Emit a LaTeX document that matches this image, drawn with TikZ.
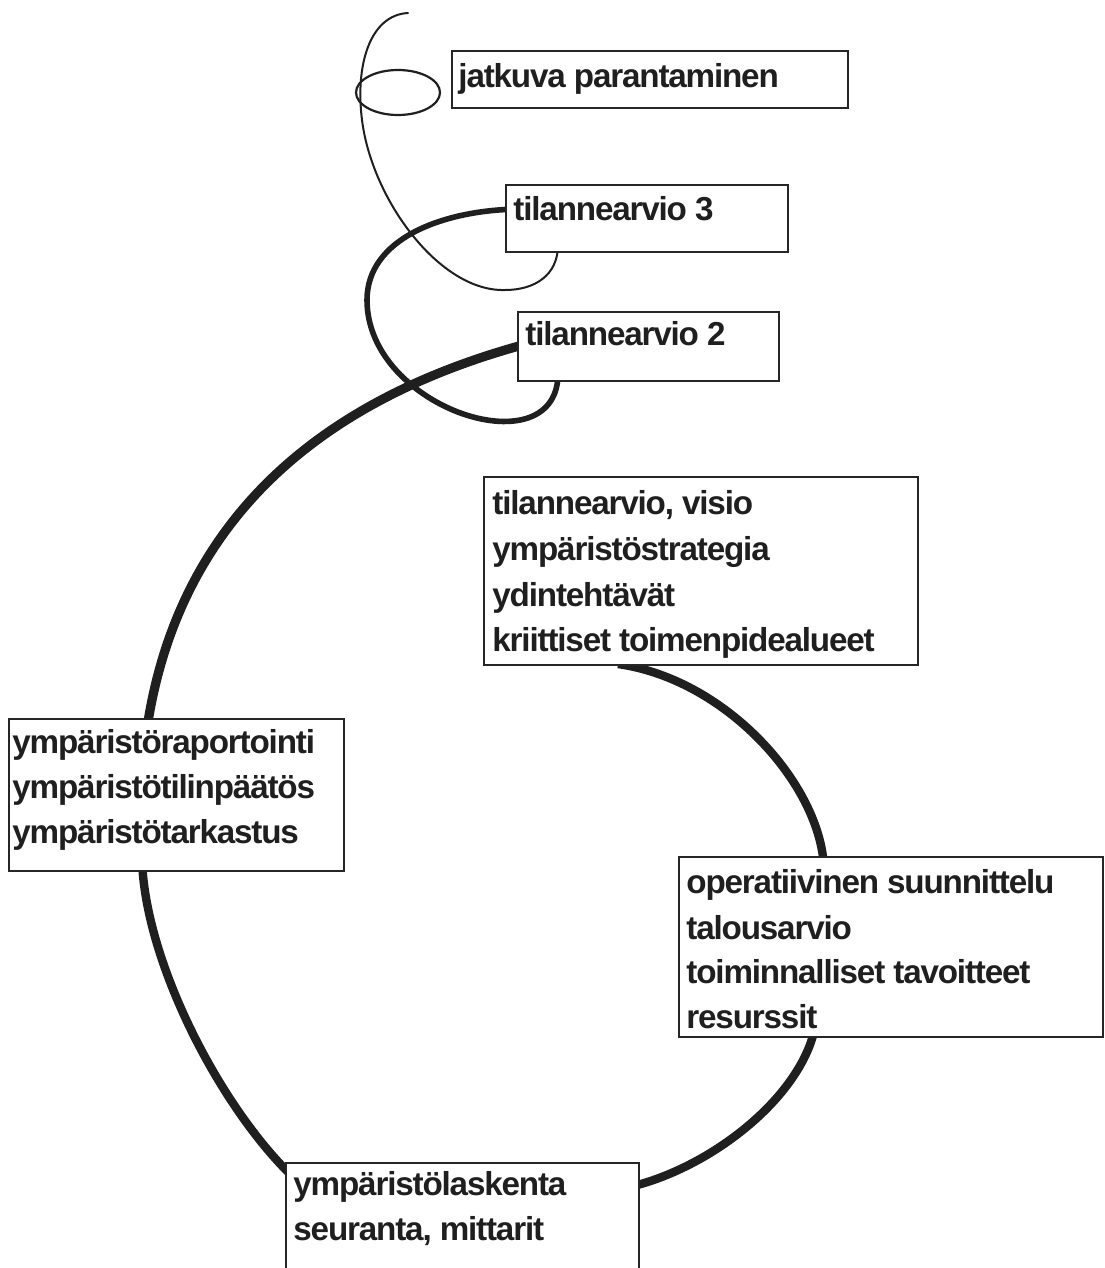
\documentclass[tikz,border=0pt]{standalone}
\usepackage{fontspec}
\setmainfont{Liberation Sans}[LetterSpace=-3.5]
\usetikzlibrary{fit}
\begin{document}
\begin{tikzpicture}[x=0.5pt,y=-0.5pt,
  box/.style={draw=black!85, line width=0.9pt, fill=white, inner sep=0pt, rectangle},
  lbl/.style={anchor=base west, inner sep=0pt, font=\fontsize{16.6}{20}\selectfont\bfseries, text=black!88},
  bigspiral/.style={line width=4.2pt, draw=black!88, line cap=butt},
  midspiral/.style={line width=2.8pt, draw=black!88, line cap=butt},
  thinspiral/.style={line width=1pt, draw=black!88, line cap=round}]
\path[use as bounding box, clip] (0,0) rectangle (1104,1268);
\fill[white] (0,0) rectangle (1104,1268);

% free end of the spiral and hidden attach points
\coordinate (topend) at (408,13);
\coordinate (aT2) at (530,343);
\coordinate (aRepN) at (146,735);
\coordinate (aRepS) at (142,850);
\coordinate (aLaskW) at (290,1174);
\coordinate (aLaskE) at (625,1188);
\coordinate (aOperS) at (816,1022);
\coordinate (aOperN) at (824,872);
\coordinate (aVisS) at (618,664);
\coordinate (aT3W) at (520,209);
\coordinate (aT2S) at (558,372);
\coordinate (aT3S) at (558,245);
\coordinate (m2) at (367,300);
\coordinate (m3a) at (505,290);
\coordinate (m3b) at (362,120);

% main spiral (thick)
\draw[bigspiral, line width=4.6pt] (aT2) .. controls (315,400) and (175,525) .. (aRepN);
\draw[bigspiral] (aRepS) .. controls (140,950) and (215,1100) .. (aLaskW);
\draw[bigspiral] (aLaskE) .. controls (710,1170) and (805,1095) .. (aOperS);
\draw[bigspiral] (aOperN) .. controls (824,790) and (730,680) .. (aVisS);

% second turn (medium)
\draw[midspiral] (aT3W) .. controls (440,210) and (367,240) .. (m2)
  .. controls (367,410) and (560,470) .. (aT2S);

% third turn (thin)
\draw[thinspiral] (aT3S) .. controls (558,275) and (535,290) .. (m3a)
  .. controls (440,292) and (372,200) .. (m3b)
  .. controls (355,65) and (370,15) .. (topend);
\draw[thinspiral, line width=1.1pt] (398,92.5) ellipse [x radius=42, y radius=22.5];

% boxes
\node[box, fit={(452,51) (848,108)}] (jat) {};
\node[box, fit={(506,185) (788,252)}] (t3) {};
\node[box, fit={(518,312) (779,381)}] (t2) {};
\node[box, fit={(484,477) (918,665)}] (vis) {};
\node[box, fit={(9,719) (344,871)}] (rep) {};
\node[box, fit={(679,857) (1103,1037)}] (oper) {};
\node[box, fit={(286,1163) (639,1300)}] (lask) {};

% labels
\node[lbl] (jatL) at (458,88) {jatkuva parantaminen};
\node[lbl] (t3L) at (513,220) {tilannearvio 3};
\node[lbl] (t2L) at (525,345) {tilannearvio 2};

\node[lbl] (vis1) at (492,514) {tilannearvio, visio};
\node[lbl] (vis2) at (492,560) {ympäristöstrategia};
\node[lbl] (vis3) at (492,606) {ydintehtävät};
\node[lbl] (vis4) at (492,651) {kriittiset toimenpidealueet};

\node[lbl] (rep1) at (12,753) {ympäristöraportointi};
\node[lbl] (rep2) at (12,798) {ympäristötilinpäätös};
\node[lbl] (rep3) at (12,843) {ympäristötarkastus};

\node[lbl] (oper1) at (686,893) {operatiivinen suunnittelu};
\node[lbl] (oper2) at (686,939) {talousarvio};
\node[lbl] (oper3) at (686,983) {toiminnalliset tavoitteet};
\node[lbl] (oper4) at (686,1028) {resurssit};

\node[lbl] (lask1) at (293,1195) {ympäristölaskenta};
\node[lbl] (lask2) at (293,1240) {seuranta, mittarit};
\end{tikzpicture}
\end{document}
